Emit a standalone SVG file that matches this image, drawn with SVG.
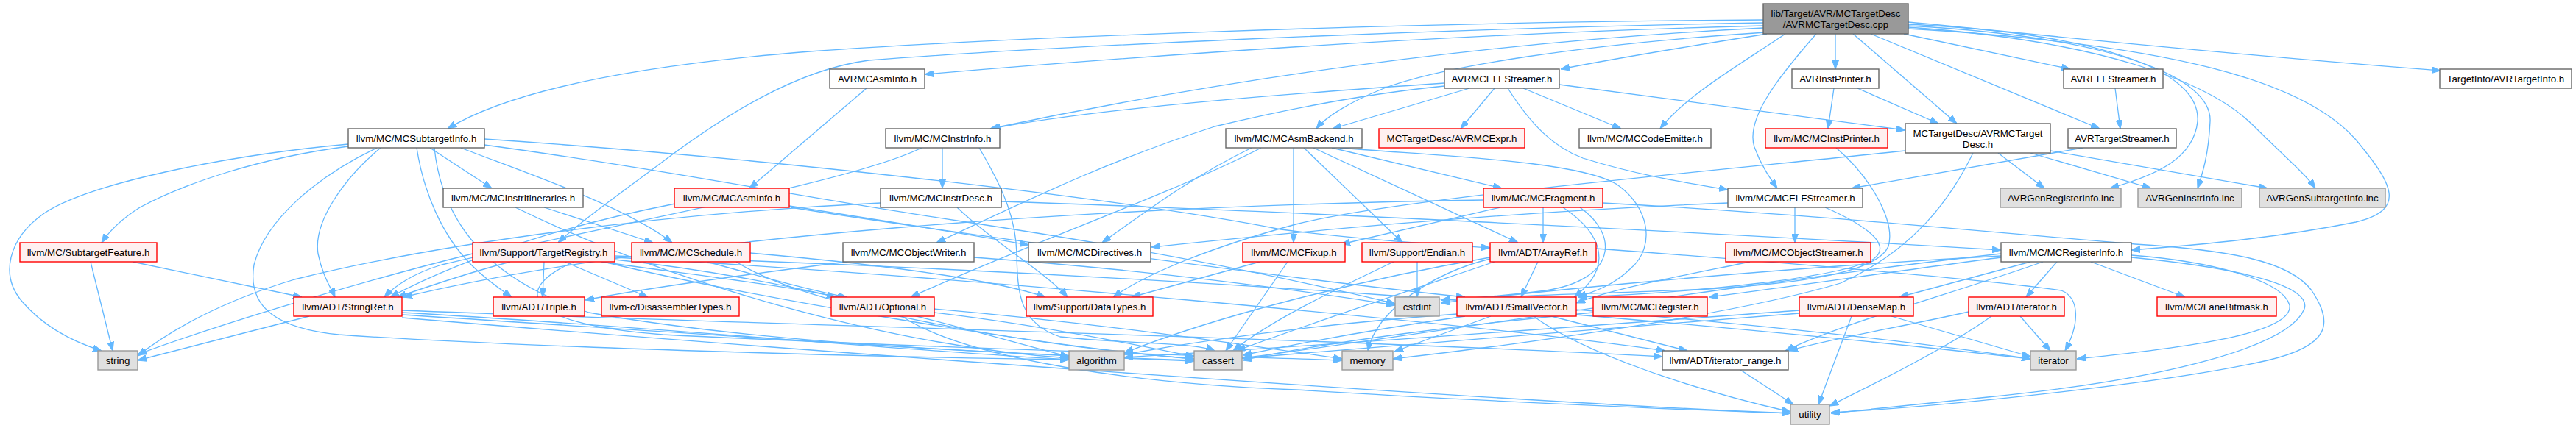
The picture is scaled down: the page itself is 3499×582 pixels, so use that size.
<svg xmlns="http://www.w3.org/2000/svg" width="3499" height="582" viewBox="0 0 3499 582">
<style>
rect{stroke-width:1.4}
.n rect{fill:#ffffff;stroke:#666666}
.r rect{fill:#fff0f0;stroke:#ff0000}
.g rect{fill:#e0e0e0;stroke:#999999}
.root rect{fill:#999999;stroke:#666666}
text{font-family:"Liberation Sans",Arial,Helvetica,sans-serif;font-size:13.33px;text-anchor:middle;fill:#000000}
#edges path{fill:none;stroke:#63b8ff;stroke-width:1.3;marker-end:url(#ah)}
</style>
<defs>
<marker id="ah" markerUnits="userSpaceOnUse" markerWidth="12" markerHeight="9" refX="12" refY="4.5" orient="auto" viewBox="0 0 12 9">
<path d="M0,0 L12,4.5 L0,9 Z" fill="#63b8ff" stroke="#63b8ff" stroke-width="1"/>
</marker>
</defs>
<rect x="0" y="0" width="3499" height="582" fill="#ffffff"/>
<g id="edges">
<path d="M2395,27 C1900,30 1350,52 1100,70 C850,90 690,125 608,175"/>
<path d="M2395,31 C1900,40 1400,65 1180,82 C1080,95 980,160 900,220 C840,265 790,300 758,330"/>
<path d="M2395,35 C2000,45 1600,72 1256,101"/>
<path d="M2395,38 C2050,55 1700,100 1345,175"/>
<path d="M2398,44 C2150,60 1960,90 1880,120 C1830,140 1800,160 1788,175"/>
<path d="M2400,46 C2300,62 2200,78 2120,94"/>
<path d="M2425,46 C2360,90 2290,130 2255,175"/>
<path d="M2467,46 C2420,100 2370,160 2383,200 C2392,225 2404,242 2414,256"/>
<path d="M2493,46 L2493,94"/>
<path d="M2517,46 L2658,168"/>
<path d="M2541,46 L2852,175"/>
<path d="M2586,46 L2812,94"/>
<path d="M2592,30 C2750,45 3000,72 3315,96"/>
<path d="M2592,33 C2850,45 2990,95 2985,165 C2980,215 2930,238 2866,256"/>
<path d="M2592,35 C2870,50 3005,105 3002,165 C3000,210 2992,235 2985,256"/>
<path d="M2592,37 C2850,55 3000,110 3060,170 C3100,210 3130,235 3145,256"/>
<path d="M2592,39 C2950,60 3130,110 3200,190 C3250,250 3270,285 3200,302 C3100,322 3000,332 2895,340"/>
<path d="M1177,120 L1018,256"/>
<path d="M1996,120 L1810,175"/>
<path d="M2030,120 L1984,175"/>
<path d="M2069,120 L2202,175"/>
<path d="M2118,115 L2588,177"/>
<path d="M2048,120 C2080,170 2110,200 2150,215 C2230,240 2300,250 2347,258"/>
<path d="M1962,113 C1800,124 1500,145 1347,175"/>
<path d="M1962,117 C1850,128 1750,148 1650,172 C1500,220 1380,280 1272,330"/>
<path d="M2491,120 L2483,175"/>
<path d="M2523,120 L2633,168"/>
<path d="M2873,120 L2880,175"/>
<path d="M2829,201 L2515,256"/>
<path d="M2714,208 L2777,256"/>
<path d="M2758,208 L2922,256"/>
<path d="M2785,205 L3080,256"/>
<path d="M2588,205 C2300,235 1900,270 1760,305 C1650,335 1560,370 1512,404"/>
<path d="M2680,208 C2650,270 2600,340 2500,385 C2350,430 2050,470 1892,488"/>
<path d="M2494,201 C2540,240 2575,300 2565,335 C2550,370 2450,385 2320,393 C2150,400 2050,402 1957,408"/>
<path d="M473,196 C300,212 120,250 60,290 C10,325 0,375 30,410 C60,445 100,465 138,477"/>
<path d="M473,199 C350,215 250,250 190,282 C165,298 150,312 138,330"/>
<path d="M517,201 C470,240 425,300 432,345 C438,375 450,392 455,404"/>
<path d="M512,201 C430,240 360,300 345,360 C335,420 380,447 460,455 C700,472 1200,486 1452,489"/>
<path d="M566,201 C575,260 600,320 640,360 C662,382 682,395 695,404"/>
<path d="M590,201 C600,300 660,380 800,425 C1050,470 1400,482 1622,490"/>
<path d="M658,197 C900,230 1100,270 1300,300 C1600,345 1800,390 1895,413"/>
<path d="M584,201 L668,256"/>
<path d="M626,201 C700,230 850,280 913,330"/>
<path d="M658,189 C1000,212 1500,265 1740,312 C1850,326 1950,332 2024,337"/>
<path d="M739,282 L887,330"/>
<path d="M700,282 C900,380 1200,470 1452,487"/>
<path d="M917,277 C800,300 650,340 530,404"/>
<path d="M1072,280 C1200,300 1300,316 1397,333"/>
<path d="M1074,282 C1300,318 1800,385 1990,404"/>
<path d="M1280,201 L1280,256"/>
<path d="M1252,201 C1150,250 850,300 600,360 C560,372 535,390 522,404"/>
<path d="M1330,201 C1365,260 1380,300 1381,345 C1382,400 1385,440 1440,458 C1530,468 1620,465 1650,477"/>
<path d="M1360,274 C1700,285 2300,315 2718,340"/>
<path d="M1196,276 C900,290 600,330 400,380 C300,410 230,450 187,484"/>
<path d="M1300,282 C1350,330 1420,370 1450,404"/>
<path d="M1757,201 L1757,330"/>
<path d="M1771,201 L1905,330"/>
<path d="M1784,201 L2062,330"/>
<path d="M1809,201 L2040,256"/>
<path d="M1820,201 C1950,212 2140,218 2195,250 C2240,280 2250,335 2215,365 C2190,390 2160,398 2143,404"/>
<path d="M1713,201 C1600,260 1400,330 1237,404"/>
<path d="M1700,201 C1620,240 1560,285 1497,330"/>
<path d="M2096,282 L2096,330"/>
<path d="M2038,282 L1822,332"/>
<path d="M2015,272 C1500,280 900,320 548,404"/>
<path d="M2123,282 C2180,320 2190,365 2138,404"/>
<path d="M2146,282 C2200,320 2195,380 2100,395 C2050,402 2000,405 1957,408"/>
<path d="M2177,276 C2450,290 2750,320 2900,332 C3030,340 3110,355 3140,395 C3170,440 3165,470 3080,490 C2950,520 2650,552 2487,561"/>
<path d="M2438,282 L2438,330"/>
<path d="M2347,276 C2000,290 1700,322 1564,336"/>
<path d="M2479,282 C2520,300 2575,330 2545,352 C2500,378 2300,398 2143,404"/>
<path d="M2377,356 C2300,372 2200,390 2141,412"/>
<path d="M2758,356 L2580,404"/>
<path d="M2794,356 L2752,404"/>
<path d="M2775,356 C2650,400 2500,440 2425,477"/>
<path d="M2840,356 L2968,404"/>
<path d="M2718,350 C2600,365 2420,392 2321,404"/>
<path d="M2718,345 C2400,380 1900,460 1687,487"/>
<path d="M2718,348 C2400,365 2100,395 1957,412"/>
<path d="M2895,347 C3000,355 3100,380 3110,415 C3115,450 3000,470 2821,488"/>
<path d="M2895,350 C3050,365 3140,390 3130,420 C3110,470 2950,515 2700,540 C2600,550 2530,558 2487,562"/>
<path d="M2515,430 L2470,550"/>
<path d="M2569,430 L2758,485"/>
<path d="M2444,422 C2200,440 1800,470 1527,486"/>
<path d="M2444,426 C2200,445 1900,470 1688,487"/>
<path d="M2744,430 L2785,477"/>
<path d="M2705,430 C2650,470 2550,520 2485,552"/>
<path d="M2674,424 C2580,445 2480,462 2430,477"/>
<path d="M2364,503 L2436,550"/>
<path d="M2025,430 L1894,478"/>
<path d="M2107,430 L2292,477"/>
<path d="M2083,430 C2150,480 2300,530 2432,560"/>
<path d="M1979,427 C1800,440 1650,460 1527,482"/>
<path d="M1990,430 C1850,450 1750,470 1688,483"/>
<path d="M2141,428 C2400,450 2600,470 2758,488"/>
<path d="M2089,356 L2066,404"/>
<path d="M2024,352 C1950,370 1870,420 1858,477"/>
<path d="M2024,350 C1850,380 1650,430 1527,480"/>
<path d="M2030,356 C1900,400 1750,450 1680,477"/>
<path d="M2168,338 C2400,355 2700,380 2800,395 C2825,405 2825,440 2805,477"/>
<path d="M1925,356 L1925,404"/>
<path d="M1893,356 C1800,400 1720,440 1675,477"/>
<path d="M1711,356 L1537,404"/>
<path d="M1749,356 L1665,477"/>
<path d="M2164,425 C2000,440 1800,465 1688,490"/>
<path d="M1225,430 C1300,480 1500,520 1760,530 C2000,545 2300,558 2432,562"/>
<path d="M1269,425 C1400,440 1550,470 1622,485"/>
<path d="M1269,420 C1500,440 1700,470 1823,488"/>
<path d="M739,356 L737,404"/>
<path d="M767,356 L880,404"/>
<path d="M693,356 C640,370 580,390 540,404"/>
<path d="M642,345 C500,380 300,440 187,482"/>
<path d="M817,356 C950,375 1080,390 1135,404"/>
<path d="M835,350 C1300,375 2000,440 2262,477"/>
<path d="M835,353 C1100,380 1350,460 1452,485"/>
<path d="M820,356 C1000,400 1400,470 1622,488"/>
<path d="M780,356 C700,390 700,440 900,455 C1300,475 1700,485 1823,490"/>
<path d="M835,348 C1500,370 2300,420 2758,488"/>
<path d="M420,430 L187,490"/>
<path d="M546,422 C1000,440 1800,460 2258,485"/>
<path d="M546,425 C900,445 1200,475 1452,489"/>
<path d="M546,428 C900,450 1300,480 1622,491"/>
<path d="M546,432 C1000,470 2000,545 2432,562"/>
<path d="M123,356 L153,477"/>
<path d="M180,356 L410,404"/>
<path d="M960,356 C1050,380 1100,395 1150,404"/>
<path d="M1019,344 C1200,360 1350,380 1420,404"/>
<path d="M1000,356 C1100,420 1400,470 1622,488"/>
<path d="M1150,356 C1000,375 860,395 795,408"/>
<path d="M1323,350 C1600,370 1800,400 1895,415"/>
</g>
<g id="n_root" class="root"><rect x="2395" y="5" width="197" height="41"/><text x="2493.5" y="23">lib/Target/AVR/MCTargetDesc</text><text x="2493.5" y="38">/AVRMCTargetDesc.cpp</text></g>
<g id="n_avrmcasminfo" class="n"><rect x="1127" y="94" width="129" height="26"/><text x="1191.5" y="111.5">AVRMCAsmInfo.h</text></g>
<g id="n_avrmcelfstreamer" class="n"><rect x="1962" y="94" width="156" height="26"/><text x="2040" y="111.5">AVRMCELFStreamer.h</text></g>
<g id="n_avrinstprinter" class="n"><rect x="2434" y="94" width="118" height="26"/><text x="2493" y="111.5">AVRInstPrinter.h</text></g>
<g id="n_avrelfstreamer" class="n"><rect x="2803" y="94" width="135" height="26"/><text x="2870.5" y="111.5">AVRELFStreamer.h</text></g>
<g id="n_targetinfo" class="n"><rect x="3314" y="94" width="179" height="26"/><text x="3403.5" y="111.5">TargetInfo/AVRTargetInfo.h</text></g>
<g id="n_mcsubtargetinfo" class="n"><rect x="473" y="175" width="185" height="26"/><text x="565.5" y="192.5">llvm/MC/MCSubtargetInfo.h</text></g>
<g id="n_mcinstrinfo" class="n"><rect x="1203" y="175" width="155" height="26"/><text x="1280.5" y="192.5">llvm/MC/MCInstrInfo.h</text></g>
<g id="n_mcasmbackend" class="n"><rect x="1665" y="175" width="185" height="26"/><text x="1757.5" y="192.5">llvm/MC/MCAsmBackend.h</text></g>
<g id="n_avrmcexpr" class="r"><rect x="1873" y="175" width="198" height="26"/><text x="1972" y="192.5">MCTargetDesc/AVRMCExpr.h</text></g>
<g id="n_mccodeemitter" class="n"><rect x="2145" y="175" width="179" height="26"/><text x="2234.5" y="192.5">llvm/MC/MCCodeEmitter.h</text></g>
<g id="n_mcinstprinter" class="r"><rect x="2398" y="175" width="166" height="26"/><text x="2481" y="192.5">llvm/MC/MCInstPrinter.h</text></g>
<g id="n_avrmctargetdesc" class="n"><rect x="2588" y="168" width="197" height="40"/><text x="2686.5" y="185.5">MCTargetDesc/AVRMCTarget</text><text x="2686.5" y="200.5">Desc.h</text></g>
<g id="n_avrtargetstreamer" class="n"><rect x="2809" y="175" width="147" height="26"/><text x="2882.5" y="192.5">AVRTargetStreamer.h</text></g>
<g id="n_mcinstritineraries" class="n"><rect x="602" y="256" width="190" height="26"/><text x="697" y="273.5">llvm/MC/MCInstrItineraries.h</text></g>
<g id="n_mcasminfo" class="r"><rect x="916" y="256" width="156" height="26"/><text x="994" y="273.5">llvm/MC/MCAsmInfo.h</text></g>
<g id="n_mcinstrdesc" class="n"><rect x="1196" y="256" width="164" height="26"/><text x="1278" y="273.5">llvm/MC/MCInstrDesc.h</text></g>
<g id="n_mcfragment" class="r"><rect x="2015" y="256" width="162" height="26"/><text x="2096" y="273.5">llvm/MC/MCFragment.h</text></g>
<g id="n_mcelfstreamer" class="n"><rect x="2347" y="256" width="183" height="26"/><text x="2438.5" y="273.5">llvm/MC/MCELFStreamer.h</text></g>
<g id="n_avrgenregisterinfo" class="g"><rect x="2717" y="256" width="164" height="26"/><text x="2799" y="273.5">AVRGenRegisterInfo.inc</text></g>
<g id="n_avrgeninstrinfo" class="g"><rect x="2904" y="256" width="141" height="26"/><text x="2974.5" y="273.5">AVRGenInstrInfo.inc</text></g>
<g id="n_avrgensubtargetinfo" class="g"><rect x="3069" y="256" width="171" height="26"/><text x="3154.5" y="273.5">AVRGenSubtargetInfo.inc</text></g>
<g id="n_subtargetfeature" class="r"><rect x="27" y="330" width="186" height="26"/><text x="120" y="347.5">llvm/MC/SubtargetFeature.h</text></g>
<g id="n_targetregistry" class="r"><rect x="642" y="330" width="193" height="26"/><text x="738.5" y="347.5">llvm/Support/TargetRegistry.h</text></g>
<g id="n_mcschedule" class="r"><rect x="858" y="330" width="161" height="26"/><text x="938.5" y="347.5">llvm/MC/MCSchedule.h</text></g>
<g id="n_mcobjectwriter" class="n"><rect x="1145" y="330" width="178" height="26"/><text x="1234" y="347.5">llvm/MC/MCObjectWriter.h</text></g>
<g id="n_mcdirectives" class="n"><rect x="1397" y="330" width="166" height="26"/><text x="1480" y="347.5">llvm/MC/MCDirectives.h</text></g>
<g id="n_mcfixup" class="r"><rect x="1688" y="330" width="139" height="26"/><text x="1757.5" y="347.5">llvm/MC/MCFixup.h</text></g>
<g id="n_endian" class="r"><rect x="1850" y="330" width="150" height="26"/><text x="1925" y="347.5">llvm/Support/Endian.h</text></g>
<g id="n_arrayref" class="r"><rect x="2024" y="330" width="144" height="26"/><text x="2096" y="347.5">llvm/ADT/ArrayRef.h</text></g>
<g id="n_mcobjectstreamer" class="r"><rect x="2344" y="330" width="197" height="26"/><text x="2442.5" y="347.5">llvm/MC/MCObjectStreamer.h</text></g>
<g id="n_mcregisterinfo" class="n"><rect x="2718" y="330" width="177" height="26"/><text x="2806.5" y="347.5">llvm/MC/MCRegisterInfo.h</text></g>
<g id="n_stringref" class="r"><rect x="399" y="404" width="147" height="26"/><text x="472.5" y="421.5">llvm/ADT/StringRef.h</text></g>
<g id="n_triple" class="r"><rect x="670" y="404" width="124" height="26"/><text x="732" y="421.5">llvm/ADT/Triple.h</text></g>
<g id="n_disassemblertypes" class="r"><rect x="817" y="404" width="187" height="26"/><text x="910.5" y="421.5">llvm-c/DisassemblerTypes.h</text></g>
<g id="n_optional" class="r"><rect x="1129" y="404" width="140" height="26"/><text x="1199" y="421.5">llvm/ADT/Optional.h</text></g>
<g id="n_datatypes" class="r"><rect x="1394" y="404" width="172" height="26"/><text x="1480" y="421.5">llvm/Support/DataTypes.h</text></g>
<g id="n_cstdint" class="g"><rect x="1895" y="404" width="60" height="26"/><text x="1925" y="421.5">cstdint</text></g>
<g id="n_smallvector" class="r"><rect x="1979" y="404" width="162" height="26"/><text x="2060" y="421.5">llvm/ADT/SmallVector.h</text></g>
<g id="n_mcregister" class="r"><rect x="2164" y="404" width="155" height="26"/><text x="2241.5" y="421.5">llvm/MC/MCRegister.h</text></g>
<g id="n_densemap" class="r"><rect x="2444" y="404" width="155" height="26"/><text x="2521.5" y="421.5">llvm/ADT/DenseMap.h</text></g>
<g id="n_iterator_h" class="r"><rect x="2674" y="404" width="130" height="26"/><text x="2739" y="421.5">llvm/ADT/iterator.h</text></g>
<g id="n_lanebitmask" class="r"><rect x="2930" y="404" width="162" height="26"/><text x="3011" y="421.5">llvm/MC/LaneBitmask.h</text></g>
<g id="n_string" class="g"><rect x="133" y="477" width="54" height="26"/><text x="160" y="494.5">string</text></g>
<g id="n_algorithm" class="g"><rect x="1452" y="477" width="75" height="26"/><text x="1489.5" y="494.5">algorithm</text></g>
<g id="n_cassert" class="g"><rect x="1622" y="477" width="65" height="26"/><text x="1654.5" y="494.5">cassert</text></g>
<g id="n_memory" class="g"><rect x="1823" y="477" width="69" height="26"/><text x="1857.5" y="494.5">memory</text></g>
<g id="n_iterator_range" class="n"><rect x="2258" y="477" width="171" height="26"/><text x="2343.5" y="494.5">llvm/ADT/iterator_range.h</text></g>
<g id="n_iterator" class="g"><rect x="2758" y="477" width="62" height="26"/><text x="2789" y="494.5">iterator</text></g>
<g id="n_utility" class="g"><rect x="2432" y="550" width="53" height="27"/><text x="2458.5" y="568">utility</text></g>
</svg>
